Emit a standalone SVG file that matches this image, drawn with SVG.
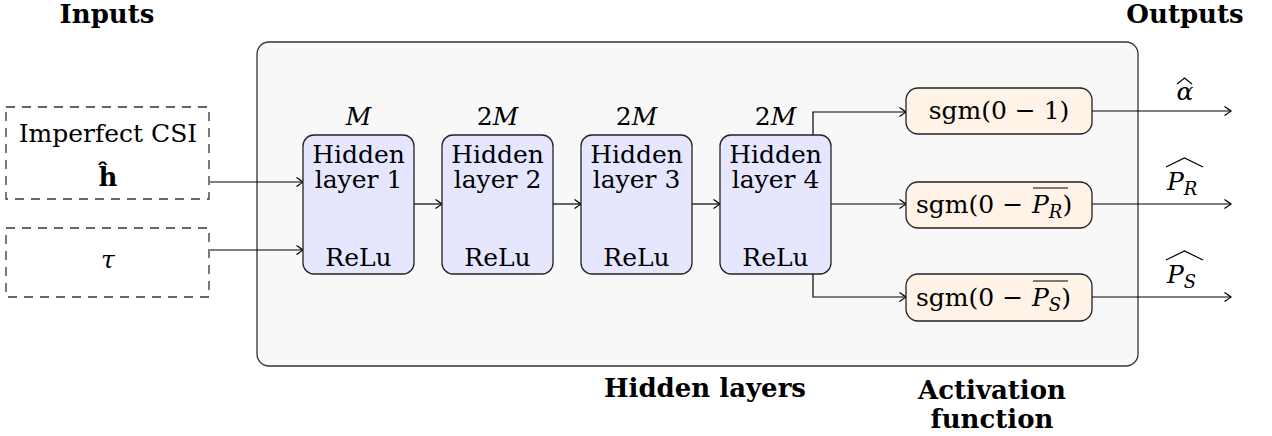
<svg xmlns="http://www.w3.org/2000/svg" width="1272" height="436" viewBox="0 0 1272 436">
<defs>
<style>
text{font-family:"DejaVu Serif",serif;font-size:25px;fill:#000;text-anchor:middle}
.b{font-weight:bold;font-size:26px}
.i{font-style:italic}
.st{text-anchor:start}
.dash{fill:#fff;stroke:#333;stroke-width:1.3;stroke-dasharray:9 7}
.hid{fill:#e6e6ff;stroke:#222;stroke-width:1.3}
.act{fill:#fff2e6;stroke:#222;stroke-width:1.3}
.con{fill:none;stroke:#000;stroke-width:1.2}
.acc{fill:none;stroke:#000;stroke-width:1.2}
</style>
<marker id="arr" viewBox="-8 -6 10 12" refX="0" refY="0" markerWidth="10" markerHeight="12" orient="auto" markerUnits="userSpaceOnUse">
<path d="M-6.5,-4.5 Q-1.5,-1 0,0 Q-1.5,1 -6.5,4.5" fill="none" stroke="#000" stroke-width="1.2"/>
</marker>
</defs>
<rect width="1272" height="436" fill="#fff"/>

<g id="container">
<rect x="257" y="42" width="881" height="324" rx="12" fill="#f8f8f8" stroke="#333" stroke-width="1.3"/>
</g>

<g id="headings">
<text class="b" x="107" y="23">Inputs</text>
<text class="b" x="1185" y="23">Outputs</text>
<text class="b" x="705" y="397">Hidden layers</text>
<text class="b" x="992" y="399">Activation</text>
<text class="b" x="992" y="428">function</text>
</g>

<g id="connectors">
<path class="con" d="M210,182 H303" marker-end="url(#arr)"/>
<path class="con" d="M210,250 H303" marker-end="url(#arr)"/>
<path class="con" d="M414,204 H442" marker-end="url(#arr)"/>
<path class="con" d="M553,204 H581" marker-end="url(#arr)"/>
<path class="con" d="M692,204 H720" marker-end="url(#arr)"/>
<path class="con" d="M813,135 V112 H906" marker-end="url(#arr)"/>
<path class="con" d="M831,204 H906" marker-end="url(#arr)"/>
<path class="con" d="M813,274 V297 H906" marker-end="url(#arr)"/>
<path class="con" d="M1092,111 H1231" marker-end="url(#arr)"/>
<path class="con" d="M1092,204 H1231" marker-end="url(#arr)"/>
<path class="con" d="M1092,297 H1231" marker-end="url(#arr)"/>
</g>

<g id="input-csi">
<rect class="dash" x="6" y="107" width="203" height="92"/>
<text x="108" y="142">Imperfect CSI</text>
<text class="b" x="108" y="186">ĥ</text>
</g>
<g id="input-tau">
<rect class="dash" x="6" y="228" width="203" height="69"/>
<text class="i" x="108" y="268">τ</text>
</g>

<g id="hidden1">
<text class="i" x="358.5" y="125">M</text>
<rect class="hid" x="303" y="135" width="111" height="139" rx="11"/>
<text x="358.5" y="163">Hidden</text>
<text x="358.5" y="188">layer 1</text>
<text x="358.5" y="266">ReLu</text>
</g>
<g id="hidden2">
<text x="497.5" y="125">2<tspan class="i">M</tspan></text>
<rect class="hid" x="442" y="135" width="111" height="139" rx="11"/>
<text x="497.5" y="163">Hidden</text>
<text x="497.5" y="188">layer 2</text>
<text x="497.5" y="266">ReLu</text>
</g>
<g id="hidden3">
<text x="636.5" y="125">2<tspan class="i">M</tspan></text>
<rect class="hid" x="581" y="135" width="111" height="139" rx="11"/>
<text x="636.5" y="163">Hidden</text>
<text x="636.5" y="188">layer 3</text>
<text x="636.5" y="266">ReLu</text>
</g>
<g id="hidden4">
<text x="775.5" y="125">2<tspan class="i">M</tspan></text>
<rect class="hid" x="720" y="135" width="111" height="139" rx="11"/>
<text x="775.5" y="163">Hidden</text>
<text x="775.5" y="188">layer 4</text>
<text x="775.5" y="266">ReLu</text>
</g>

<g id="act-alpha">
<rect class="act" x="906" y="88" width="186" height="46" rx="12"/>
<text x="999" y="119">sgm(0 − 1)</text>
</g>
<g id="act-pr">
<rect class="act" x="906" y="182" width="186" height="46" rx="12"/>
<text class="st" x="916" y="213">sgm(0 −<tspan class="i" x="1032">P</tspan><tspan class="i" style="font-size:18px" dy="5">R</tspan><tspan dy="-5">)</tspan></text>
<path class="acc" d="M1033,188 H1068"/>
</g>
<g id="act-ps">
<rect class="act" x="906" y="274" width="186" height="47" rx="12"/>
<text class="st" x="916" y="306">sgm(0 −<tspan class="i" x="1032">P</tspan><tspan class="i" style="font-size:18px" dy="5">S</tspan><tspan dy="-5">)</tspan></text>
<path class="acc" d="M1033,281 H1068"/>
</g>

<g id="output-alpha">
<text class="i" x="1185" y="100">α</text>
<path class="acc" d="M1177,84 L1184.5,78 L1192,84"/>
</g>
<g id="output-pr">
<text class="i st" x="1167" y="190">P<tspan style="font-size:18px" dy="5">R</tspan></text>
<path class="acc" d="M1166,167 L1184.5,158 L1203,167"/>
</g>
<g id="output-ps">
<text class="i st" x="1167" y="283">P<tspan style="font-size:18px" dy="5">S</tspan></text>
<path class="acc" d="M1166,260 L1184.5,251 L1203,260"/>
</g>
</svg>
